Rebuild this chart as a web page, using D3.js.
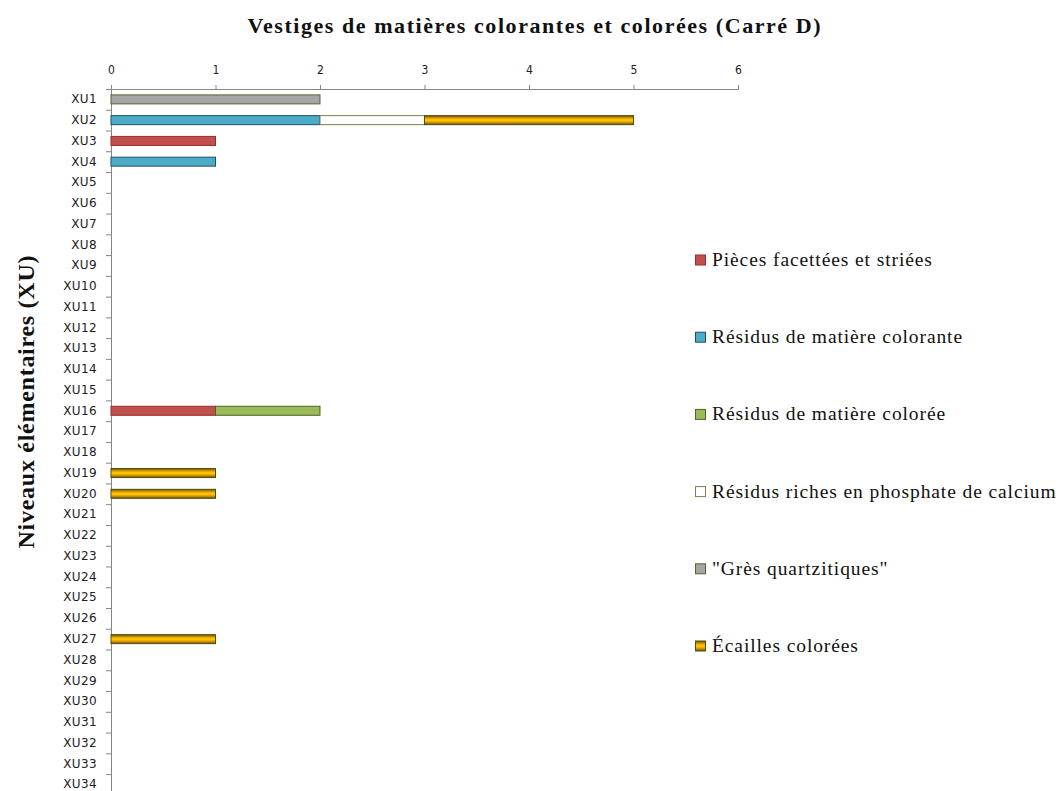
<!DOCTYPE html>
<html>
<head>
<meta charset="utf-8">
<script src="https://cdn.jsdelivr.net/npm/d3@7"></script>
<style>
  body { margin: 0; background: #fff; }
  svg { display: block; }
  .axis path, .axis line { stroke: #868686; }
  .axis text { fill: #222; }
</style>
</head>
<body>
<svg class="chart" width="1058" height="791"></svg>
<script>
const levels = d3.range(1, 35).map((i) => "XU" + i);

const seriesNames = [
  "Pièces facettées et striées",
  "Résidus de matière colorante",
  "Résidus de matière colorée",
  "Résidus riches en phosphate de calcium",
  "\"Grès quartzitiques\"",
  "Écailles colorées",
];

// counts per level, one object per series
const pieces = { XU3: 1, XU16: 1 };
const colorante = { XU2: 2, XU4: 1 };
const coloree = { XU16: 1 };
const phosphate = { XU2: 1 };
const gres = { XU1: 2 };
const ecailles = { XU2: 2, XU19: 1, XU20: 1, XU27: 1 };

const xTicks = [0, 1, 2, 3, 4, 5, 6];

const seriesValues = [pieces, colorante, coloree, phosphate, gres, ecailles];
const fills = ["#c0504d", "#4bacc6", "#9bbb59", "#ffffff", "#a5a5a5", "url(#ecailles)"];
const strokes = ["#a0262a", "#1f4f6e", "#4f6228", "#7f7f4f", "#5f5f30", "#4d4d10"];

function createChart() {
  const svg = d3.select(".chart");
  const left = 111;
  const right = 738;
  const top = 89;
  const bottom = top + 34 * 20.76;
  const barHeight = 9;

  const defs = svg.append("defs");
  const grad = defs
    .append("linearGradient")
    .attr("id", "ecailles")
    .attr("x1", 0)
    .attr("y1", 0)
    .attr("x2", 0)
    .attr("y2", 1);
  [
    [0, "#5a5a10"],
    [0.28, "#e89a00"],
    [0.5, "#ffd200"],
    [0.72, "#e89a00"],
    [1, "#5a5a10"],
  ].forEach(([o, c]) => grad.append("stop").attr("offset", o).attr("stop-color", c));

  const table = levels.map((lv) => {
    const row = { level: lv };
    seriesValues.forEach((s, i) => (row[i] = s[lv] || 0));
    return row;
  });
  const stacked = d3.stack().keys(d3.range(seriesNames.length))(table);

  const xScale = d3.scaleLinear().domain([0, 6]).range([left, right]);
  const yScale = d3.scaleBand().domain(levels).range([top, bottom]).padding(0);

  svg
    .append("g")
    .attr("class", "axis")
    .attr("transform", "translate(0," + top + ")")
    .call(
      d3
        .axisTop(xScale)
        .tickValues(xTicks)
        .tickFormat(d3.format("d"))
        .tickSize(4)
        .tickSizeOuter(4)
        .tickPadding(11)
    )
    .call((g) => g.selectAll("text").style("font", "12px 'DejaVu Sans Condensed', 'DejaVu Sans'"));

  const yAxis = svg
    .append("g")
    .attr("class", "axis")
    .attr("transform", "translate(" + left + ",0)")
    .call(d3.axisLeft(yScale).tickSize(0).tickPadding(14))
    .call((g) =>
      g
        .selectAll("text")
        .style("font", "12px 'DejaVu Sans'")
        .style("letter-spacing", "0.4px")
        .attr("fill", "#333")
    );

  yAxis
    .selectAll(".boundary")
    .data(levels)
    .enter()
    .append("line")
    .attr("class", "boundary")
    .attr("x1", -5)
    .attr("x2", 0)
    .attr("y1", (d) => yScale(d) + 0.5)
    .attr("y2", (d) => yScale(d) + 0.5);

  svg
    .append("g")
    .selectAll("g")
    .data(stacked)
    .enter()
    .append("g")
    .attr("fill", (d) => fills[d.key])
    .attr("stroke", (d) => strokes[d.key])
    .selectAll("rect")
    .data((d) => d.filter((p) => p[1] > p[0]))
    .enter()
    .append("rect")
    .attr("x", (d) => xScale(d[0]))
    .attr("y", (d) => yScale(d.data.level) + (yScale.bandwidth() - barHeight) / 2)
    .attr("width", (d) => xScale(d[1]) - xScale(d[0]))
    .attr("height", barHeight);

  svg
    .append("text")
    .text("Vestiges de matières colorantes et colorées (Carré D)")
    .attr("x", 534)
    .attr("y", 33)
    .attr("text-anchor", "middle")
    .attr("textLength", 573)
    .attr("lengthAdjust", "spacing")
    .style("font", "bold 22px 'Liberation Serif'")
    .attr("fill", "#111");

  svg
    .append("text")
    .text("Niveaux élémentaires (XU)")
    .attr("transform", "translate(34,402) rotate(-90)")
    .attr("text-anchor", "middle")
    .attr("textLength", 293)
    .attr("lengthAdjust", "spacing")
    .style("font", "bold 24px 'Liberation Serif'")
    .attr("fill", "#111");

  const legendY = d3.scalePoint().domain(d3.range(seriesNames.length)).range([260, 646]);
  const legend = svg.append("g").attr("class", "legend");
  const item = legend
    .selectAll("g")
    .data(seriesNames)
    .enter()
    .append("g")
    .attr("transform", (_, i) => "translate(695," + legendY(i) + ")");
  item
    .append("rect")
    .attr("x", 0.5)
    .attr("y", -5)
    .attr("width", 10)
    .attr("height", 10)
    .attr("fill", (_, i) => fills[i])
    .attr("stroke", (_, i) => strokes[i]);
  item
    .append("text")
    .text((d) => d)
    .attr("x", 17)
    .attr("y", 6)
    .style("font", "19.5px 'Liberation Serif'")
    .style("letter-spacing", "0.9px")
    .attr("fill", "#111");
}

createChart();
</script>
</body>
</html>
